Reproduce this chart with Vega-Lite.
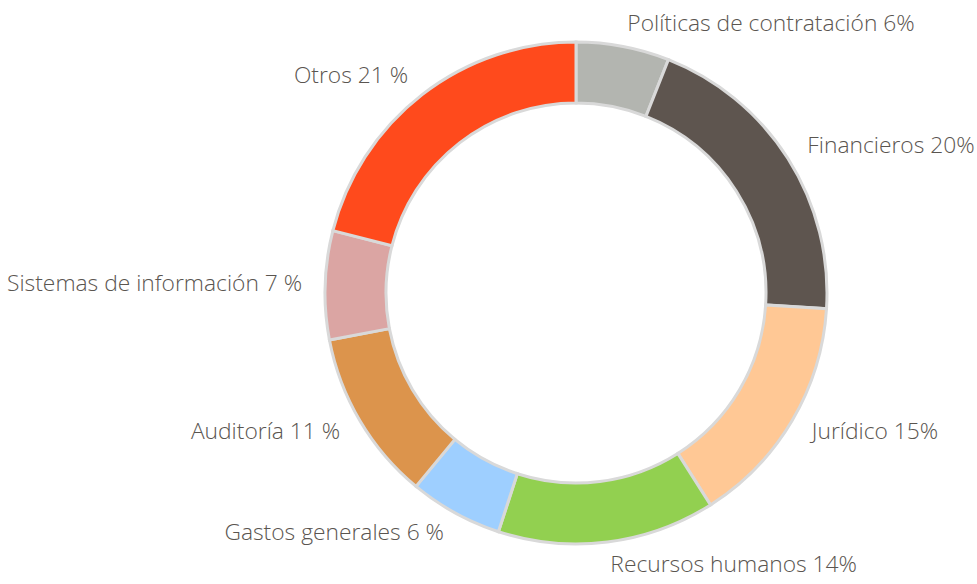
{
  "$schema": "https://vega.github.io/schema/vega-lite/v6.json",
  "width": 802,
  "height": 586,
  "autosize": "none",
  "padding": {"left": 175, "top": 0, "right": 0, "bottom": 0},
  "background": "white",
  "config": {"view": {"stroke": null}},
  "data": {
    "values": [
      {"idx": 1, "cat": "Políticas de contratación", "label": "Políticas de contratación 6%", "pct": 6, "side": "right"},
      {"idx": 2, "cat": "Financieros", "label": "Financieros 20%", "pct": 20, "side": "right"},
      {"idx": 3, "cat": "Jurídico", "label": "Jurídico 15%", "pct": 15, "side": "right"},
      {"idx": 4, "cat": "Recursos humanos", "label": "Recursos humanos 14%", "pct": 14, "side": "right"},
      {"idx": 5, "cat": "Gastos generales", "label": "Gastos generales 6 %", "pct": 6, "side": "left"},
      {"idx": 6, "cat": "Auditoría", "label": "Auditoría 11 %", "pct": 11, "side": "left"},
      {"idx": 7, "cat": "Sistemas de información", "label": "Sistemas de información 7 %", "pct": 7, "side": "left"},
      {"idx": 8, "cat": "Otros", "label": "Otros 21 %", "pct": 21, "side": "left"}
    ]
  },
  "encoding": {
    "theta": {"field": "pct", "type": "quantitative", "stack": true},
    "order": {"field": "idx", "type": "quantitative"}
  },
  "layer": [
    {
      "mark": {"type": "arc", "outerRadius": 251, "innerRadius": 190, "stroke": "#d9d9d9", "strokeWidth": 3},
      "encoding": {
        "color": {
          "field": "cat",
          "type": "nominal",
          "legend": null,
          "scale": {
            "domain": ["Políticas de contratación", "Financieros", "Jurídico", "Recursos humanos", "Gastos generales", "Auditoría", "Sistemas de información", "Otros"],
            "range": ["#B3B5B0", "#5E554F", "#FFC895", "#92D050", "#9ECFFF", "#DC944C", "#DBA5A3", "#FF4A1C"]
          }
        }
      }
    },
    {
      "mark": {
        "type": "text",
        "radius": 274,
        "font": "Open Sans",
        "fontSize": 22.8,
        "fontWeight": 300,
        "fill": "#5a5550",
        "baseline": "middle",
        "align": {"expr": "datum.side === 'left' ? 'right' : 'left'"}
      },
      "encoding": {
        "text": {"field": "label"}
      }
    }
  ]
}
